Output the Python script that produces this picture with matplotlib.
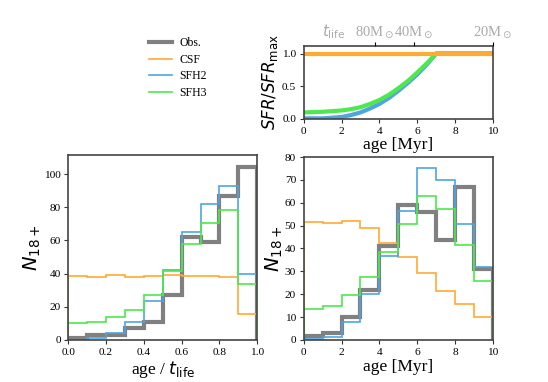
import numpy as np
import matplotlib
matplotlib.use("Agg")
import matplotlib.pyplot as plt

plt.rcParams['font.family'] = ['Liberation Serif', 'DejaVu Serif']
plt.rcParams['mathtext.fontset'] = 'dejavusans'

# histogram bins
frac_edges = [0.0, 0.1, 0.2, 0.3, 0.4, 0.5, 0.6, 0.7, 0.8, 0.9, 1.0]
age_edges = [0, 1, 2, 3, 4, 5, 6, 7, 8, 9, 10]

# N18+ vs age / t_life
obs_frac = [1, 3, 3, 7, 11, 27, 62, 59, 87, 104]
csf_frac = [38.8, 38.2, 39.2, 38.2, 38.6, 39.0, 38.6, 38.6, 38.2, 15.6]
sfh2_frac = [0, 1, 4.4, 11, 23.4, 42, 65, 82, 93, 40]
sfh3_frac = [10.2, 10.8, 13.6, 18, 27.4, 41.4, 58, 70.8, 78.6, 33.8]

# N18+ vs age [Myr]
obs_age = [1.9, 3.1, 10.2, 21.9, 40.9, 59, 55.9, 43.8, 66.9, 31.1]
csf_age = [51.7, 51.1, 52.0, 49.0, 42.6, 36.1, 29.2, 21.6, 15.8, 9.9]
sfh2_age = [0.3, 1.5, 8, 20.1, 36.5, 56.2, 75.2, 69.8, 50.8, 31.7]
sfh3_age = [13.7, 15, 19.7, 27.7, 38.4, 50.8, 63.1, 57.1, 41.6, 26]

# SFR / SFR_max histories
sfr_age = [0, 1, 2, 2.5, 3, 3.5, 4, 4.5, 5, 5.5, 6, 6.5, 7, 10]
sfr_csf = [1, 1, 1, 1, 1, 1, 1, 1, 1, 1, 1, 1, 1, 1]
sfr_sfh2 = [0.01, 0.01, 0.03, 0.06, 0.1, 0.16, 0.23, 0.32, 0.43, 0.55, 0.68, 0.83, 1.0, 1.0]
sfr_sfh3 = [0.10, 0.11, 0.13, 0.15, 0.18, 0.23, 0.29, 0.37, 0.47, 0.58, 0.71, 0.85, 1.0, 1.0]

# stellar lifetimes on top axis
life_ages = [3.77, 5.83, 10]
life_labels = [r'80M$_\odot$', r'40M$_\odot$', r'20M$_\odot$']

c_obs = '#808080'
c_csf = '#ffaa33'
c_sfh2 = '#4ea5e0'
c_sfh3 = '#4de84d'

fig = plt.figure(figsize=(5.48, 3.82), dpi=100)
ax_l = fig.add_axes([0.1246, 0.110, 0.3449, 0.4843])
ax_r = fig.add_axes([0.5542, 0.110, 0.3454, 0.4790])
ax_t = fig.add_axes([0.5542, 0.6885, 0.3454, 0.1919])

for ax in (ax_l, ax_r, ax_t):
    for s in ax.spines.values():
        s.set_color('#444444')
        s.set_linewidth(1.2)
    ax.tick_params(labelsize=8.2, length=3, color='#333333', pad=2.5)

def draw_hists(ax, edges, obs, csf, sfh2, sfh3):
    ax.stairs(obs, edges, baseline=0, color=c_obs, lw=3, label='Obs.')
    ax.stairs(csf, edges, baseline=0, color=c_csf, lw=1.2, label='CSF')
    ax.stairs(sfh2, edges, baseline=0, color=c_sfh2, lw=1.2, label='SFH2')
    ax.stairs(sfh3, edges, baseline=0, color=c_sfh3, lw=1.2, label='SFH3')

draw_hists(ax_l, frac_edges, obs_frac, csf_frac, sfh2_frac, sfh3_frac)
ax_l.set_xlim(0, 1)
ax_l.set_ylim(0, 111.5)
ax_l.set_xticks([0.0, 0.2, 0.4, 0.6, 0.8, 1.0])
ax_l.set_xticklabels(['0.0', '0.2', '0.4', '0.6', '0.8', '1.0'])
ax_l.set_xlabel(r'age / $t_{\rm life}$', fontsize=12.5, labelpad=2)
ax_l.set_ylabel(r'$N_{18+}$', fontsize=14, labelpad=1)

draw_hists(ax_r, age_edges, obs_age, csf_age, sfh2_age, sfh3_age)
ax_r.set_xlim(0, 10)
ax_r.set_ylim(0, 80)
ax_r.set_xticks([0, 2, 4, 6, 8, 10])
ax_r.set_xlabel('age [Myr]', fontsize=12.5, labelpad=2)
ax_r.set_ylabel(r'$N_{18+}$', fontsize=14, labelpad=0)

ax_t.plot(sfr_age, sfr_sfh2, color=c_sfh2, lw=3)
ax_t.plot(sfr_age, sfr_sfh3, color=c_sfh3, lw=3)
ax_t.plot(sfr_age, sfr_csf, color=c_csf, lw=3)
ax_t.set_xlim(0, 10)
ax_t.set_ylim(0, 1.12)
ax_t.set_xticks([0, 2, 4, 6, 8, 10])
ax_t.set_yticks([0.0, 0.5, 1.0])
ax_t.set_xlabel('age [Myr]', fontsize=12.5, labelpad=1)
ax_t.set_ylabel(r'$SFR/SFR_{\rm max}$', fontsize=12, labelpad=1)

ax_tt = ax_t.twiny()
ax_tt.set_xlim(0, 10)
ax_tt.set_xticks(life_ages)
ax_tt.set_xticklabels(life_labels)
ax_tt.tick_params(labelsize=10.5, labelcolor='#aaaaaa', length=3, pad=1)
for s in ax_tt.spines.values():
    s.set_visible(False)
fig.text(334 / 548, 1 - 32 / 382, r'$t_{\rm life}$', color='#aaaaaa',
         fontsize=11, ha='center', va='center')

handles, labels = ax_l.get_legend_handles_labels()
fig.legend(handles, labels, loc='upper left', bbox_to_anchor=(0.252, 0.93),
           frameon=False, fontsize=8.5, handlelength=2.0, labelspacing=0.38,
           handletextpad=0.6)

fig.savefig('out.png', dpi=100)
